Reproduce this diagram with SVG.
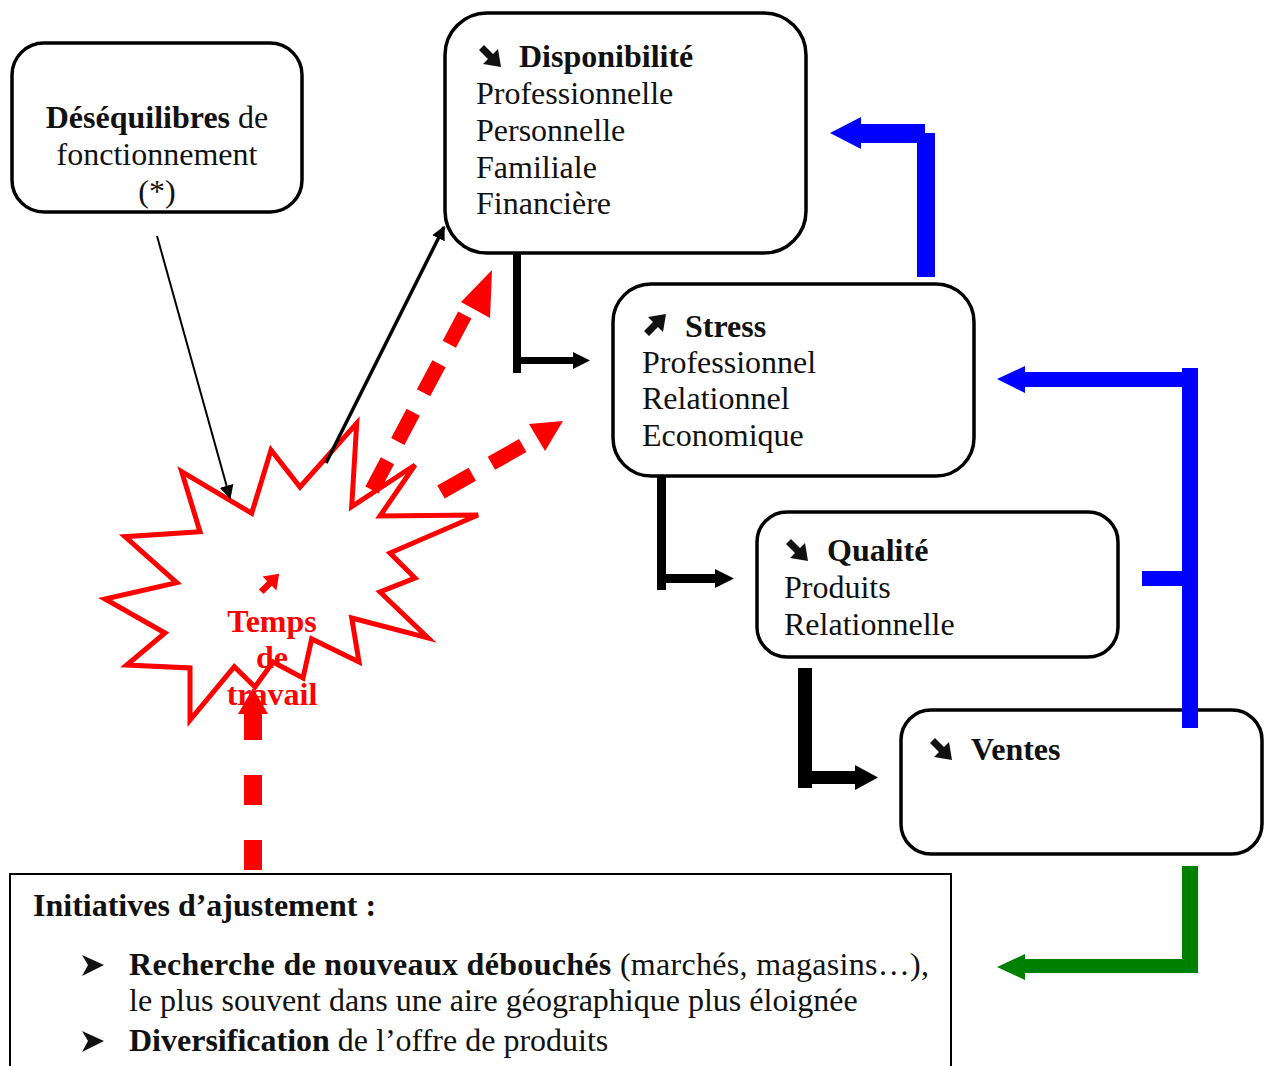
<svg xmlns="http://www.w3.org/2000/svg" width="1265" height="1066" viewBox="0 0 1265 1066">
<defs>
<style>
.box{fill:#fff;stroke:#000;stroke-width:3.5}
.t{font-family:"Liberation Serif","Times New Roman",serif;font-size:32px;fill:#111}
.b{font-weight:bold}
.red{fill:#ff0000}
</style>
<symbol id="se" viewBox="0 0 24 24" overflow="visible"><path d="M1,6 L6,1 L15,10 L20,5 L23,23 L5,20 L10,15 Z"/></symbol>
<path id="bullet" d="M0,0 L22,10 L0,21 L6,10 Z"/>
<marker id="ahThin" viewBox="0 0 10 10" refX="9" refY="5" markerWidth="7" markerHeight="7" markerUnits="strokeWidth" orient="auto"><path d="M0,0 L10,5 L0,10 z" fill="#000"/></marker>
<marker id="ahMed" viewBox="0 0 10 10" refX="9" refY="5" markerWidth="4" markerHeight="4" markerUnits="strokeWidth" orient="auto"><path d="M0,0 L10,5 L0,10 z" fill="#000"/></marker>
</defs>

<g id="node-desequilibres">
  <rect class="box" x="12" y="43" width="290" height="169" rx="32"/>
  <text class="t" x="157" y="128" text-anchor="middle"><tspan class="b">Déséquilibres</tspan> de</text>
  <text class="t" x="157" y="165" text-anchor="middle">fonctionnement</text>
  <text class="t" x="157" y="202" text-anchor="middle">(*)</text>
</g>

<g id="node-disponibilite">
  <rect class="box" x="445" y="13" width="361" height="240" rx="42"/>
  <use href="#se" x="478" y="44" width="24" height="24" fill="#111"/>
  <text class="t b" x="519" y="67">Disponibilité</text>
  <text class="t" x="476" y="104">Professionnelle</text>
  <text class="t" x="476" y="141">Personnelle</text>
  <text class="t" x="476" y="178">Familiale</text>
  <text class="t" x="476" y="214">Financière</text>
</g>

<g id="node-stress">
  <rect class="box" x="613" y="284" width="361" height="192" rx="38"/>
  <use href="#se" transform="translate(643,337) scale(1,-1)" width="24" height="24" fill="#111"/>
  <text class="t b" x="685" y="337">Stress</text>
  <text class="t" x="642" y="373">Professionnel</text>
  <text class="t" x="642" y="409">Relationnel</text>
  <text class="t" x="642" y="446">Economique</text>
</g>

<g id="node-qualite">
  <rect class="box" x="757" y="512" width="361" height="145" rx="30"/>
  <use href="#se" x="785" y="538" width="24" height="24" fill="#111"/>
  <text class="t b" x="827" y="561">Qualité</text>
  <text class="t" x="784" y="598">Produits</text>
  <text class="t" x="784" y="635">Relationnelle</text>
</g>

<g id="node-ventes">
  <rect class="box" x="901" y="710" width="361" height="144" rx="30"/>
  <use href="#se" x="929" y="737" width="24" height="24" fill="#111"/>
  <text class="t b" x="971" y="760">Ventes</text>
</g>

<g id="node-temps">
  <polygon points="181.7,471.7 251.7,513.3 271,450 300,487 356.7,423.3 351.7,506.7 415,465 380,516 478,515 390,553 415,578 380,592 428,638 351.7,618 359,662 311.7,639 303,678 273,662 255,687 234.3,666.7 190,720 190,668 126.7,665 165,633 105,599 176.7,582.7 125,536.7 200,531.7" fill="none" stroke="#ff0000" stroke-width="5"/>
  <use href="#se" transform="translate(258,595) scale(0.92,-0.92)" width="24" height="24" fill="#ff0000"/>
  <text class="t b red" x="272" y="632" text-anchor="middle" font-size="31">Temps</text>
  <text class="t b red" x="272" y="668" text-anchor="middle" font-size="31">de</text>
  <text class="t b red" x="272" y="705" text-anchor="middle" font-size="31">travail</text>
</g>

<g id="node-initiatives">
  <rect x="10" y="874" width="941" height="200" fill="#fff" stroke="#000" stroke-width="2"/>
  <text class="t b" x="33" y="916">Initiatives d’ajustement :</text>
  <use href="#bullet" x="82" y="955" fill="#111"/>
  <text class="t" x="129" y="975" textLength="800" lengthAdjust="spacing"><tspan class="b">Recherche de nouveaux débouchés</tspan> (marchés, magasins…),</text>
  <text class="t" x="129" y="1011">le plus souvent dans une aire géographique plus éloignée</text>
  <use href="#bullet" x="82" y="1031" fill="#111"/>
  <text class="t" x="129" y="1051"><tspan class="b">Diversification</tspan> de l’offre de produits</text>
</g>

<g id="connectors">
  <line x1="157" y1="236" x2="230" y2="498" stroke="#000" stroke-width="2" marker-end="url(#ahThin)"/>
  <line x1="326" y1="463" x2="444" y2="227" stroke="#000" stroke-width="3.5" marker-end="url(#ahMed)"/>
  <g fill="#ff0000">
    <line x1="372" y1="490" x2="468" y2="309" stroke="#ff0000" stroke-width="15" stroke-dasharray="33,22"/>
    <polygon points="492,270 490,318 461,302"/>
    <line x1="441" y1="492" x2="536" y2="438" stroke="#ff0000" stroke-width="15" stroke-dasharray="36,22"/>
    <polygon points="563,421 545,451 529,424"/>
    <line x1="253" y1="870" x2="253" y2="712" stroke="#ff0000" stroke-width="18" stroke-dasharray="30,35"/>
    <polygon points="253,688 268,714 238,714"/>
  </g>
  <g fill="#000">
    <rect x="513" y="253" width="8" height="120"/>
    <rect x="517" y="357" width="58" height="7"/>
    <polygon points="573,352 590,360.5 573,369"/>
    <rect x="657" y="476" width="9" height="114"/>
    <rect x="661" y="574" width="56" height="9"/>
    <polygon points="715,569 734,578.5 715,588"/>
    <rect x="798" y="668" width="14" height="120"/>
    <rect x="805" y="771" width="52" height="13"/>
    <polygon points="855,765 878,777.5 855,790"/>
  </g>
  <g fill="#0000ff">
    <rect x="917" y="133" width="18" height="144"/>
    <rect x="860" y="124" width="65" height="19"/>
    <polygon points="830,133 861,117 861,149"/>
    <rect x="1182" y="368" width="16" height="360"/>
    <rect x="1024" y="372" width="166" height="15"/>
    <polygon points="997,379 1025,366 1025,393"/>
    <rect x="1142" y="571" width="48" height="15"/>
  </g>
  <g fill="#008000">
    <rect x="1182" y="866" width="16" height="107"/>
    <rect x="1024" y="959" width="174" height="14"/>
    <polygon points="997,967 1025,954 1025,980"/>
  </g>
</g>
</svg>
